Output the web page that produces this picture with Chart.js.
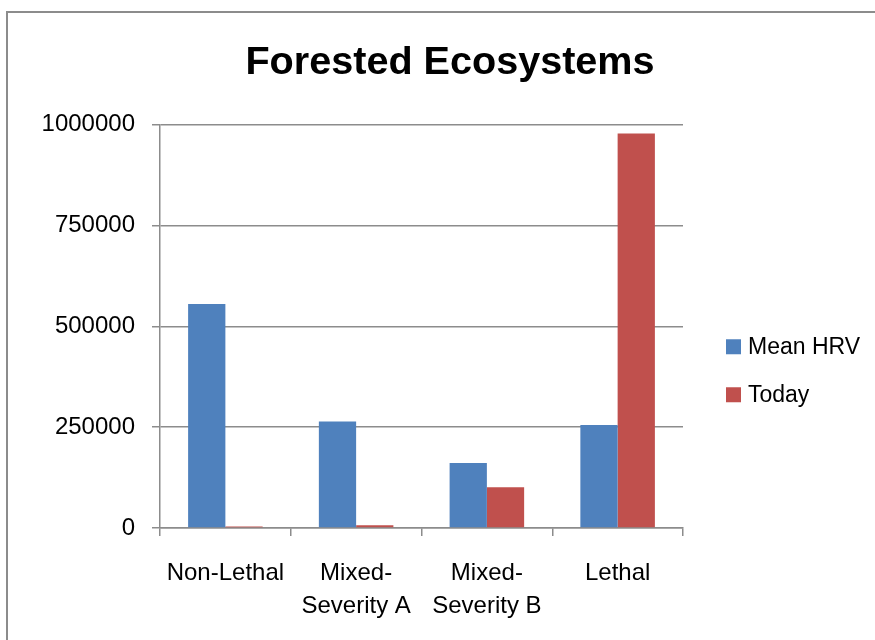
<!DOCTYPE html>
<html>
<head>
<meta charset="utf-8">
<script src="https://cdn.jsdelivr.net/npm/chart.js@4/dist/chart.umd.min.js"></script>
<style>
  html, body { margin: 0; padding: 0; background: #fff; overflow: hidden; }
  #wrap { position: relative; width: 875px; height: 640px; }
  #frame { position: absolute; left: 6px; top: 11px; width: 900px; height: 700px;
           border: 2px solid #8c8c8c; box-sizing: border-box; }
  #c { position: absolute; left: 0; top: 0; }
</style>
</head>
<body>
<div id="wrap">
  <div id="frame"></div>
  <canvas id="c" width="875" height="640"></canvas>
</div>
<script>
// Fire regime categories (acres)
const categories = ['Non-Lethal', ['Mixed-', 'Severity A'], ['Mixed-', 'Severity B'], 'Lethal'];
const meanHRV = [555000, 264000, 161000, 255000];
const today = [4000, 7000, 101000, 978000];
const yTicks = [0, 250000, 500000, 750000, 1000000];
const seriesNames = ['Mean HRV', 'Today'];
const seriesColors = ['#4F81BD', '#C0504D'];

const FONT = '"Liberation Sans", Arial, sans-serif';
const GRID = '#8c8c8c';

// Legend drawn in the space reserved on the right, two rows
const sideLegend = {
  id: 'sideLegend',
  afterDraw(chart) {
    const { ctx, chartArea } = chart;
    const x = chartArea.right + 43;
    const midY = (chartArea.top + chartArea.bottom) / 2 + 44;
    const rowGap = 48;
    ctx.save();
    ctx.font = '23px ' + FONT;
    ctx.textBaseline = 'middle';
    chart.data.datasets.forEach((ds, i) => {
      const cy = midY + (i - 0.5) * rowGap;
      ctx.fillStyle = ds.backgroundColor;
      ctx.fillRect(x, cy - 7, 15, 15);
      ctx.fillStyle = '#000';
      ctx.fillText(ds.label, x + 22, cy + 1);
    });
    ctx.restore();
  }
};

new Chart(document.getElementById('c'), {
  type: 'bar',
  data: {
    labels: categories,
    datasets: [
      { label: seriesNames[0], data: meanHRV, backgroundColor: seriesColors[0] },
      { label: seriesNames[1], data: today, backgroundColor: seriesColors[1] }
    ]
  },
  options: {
    responsive: false,
    animation: false,
    devicePixelRatio: 1,
    categoryPercentage: 0.57,
    barPercentage: 1.0,
    layout: { padding: { left: 25, right: 0, top: 0, bottom: 0 } },
    plugins: {
      legend: { display: false },
      tooltip: { enabled: false },
      title: {
        display: true,
        text: 'Forested Ecosystems',
        color: '#000',
        font: { family: FONT, size: 39.6, weight: 'bold', lineHeight: 1.2 },
        padding: { top: 39, bottom: 38 }
      }
    },
    scales: {
      x: {
        afterFit(scale) { scale.height = 112; },
        grid: { display: true, drawOnChartArea: false, drawTicks: true, tickLength: 8, color: GRID, lineWidth: 1.5 },
        border: { display: true, color: GRID, width: 1.5 },
        ticks: {
          color: '#000',
          padding: 21,
          maxRotation: 0,
          autoSkip: false,
          font: { family: FONT, size: 24, lineHeight: 1.36 }
        }
      },
      y: {
        min: 0,
        max: 1000000,
        afterFit(scale) { scale.width = 135; },
        afterBuildTicks(scale) { scale.ticks = yTicks.map(v => ({ value: v })); },
        grid: { color: GRID, lineWidth: 1.5, drawTicks: true, tickLength: 8 },
        border: { display: true, color: GRID, width: 1.5 },
        ticks: {
          color: '#000',
          padding: 17,
          font: { family: FONT, size: 24 },
          callback: v => String(v)
        }
      },
      // empty right-hand axis that keeps room for the legend
      legendSpace: {
        type: 'linear',
        position: 'right',
        display: true,
        afterFit(scale) { scale.width = 192; },
        grid: { display: false },
        border: { display: false },
        ticks: { display: false }
      }
    }
  },
  plugins: [sideLegend]
});
</script>
</body>
</html>
